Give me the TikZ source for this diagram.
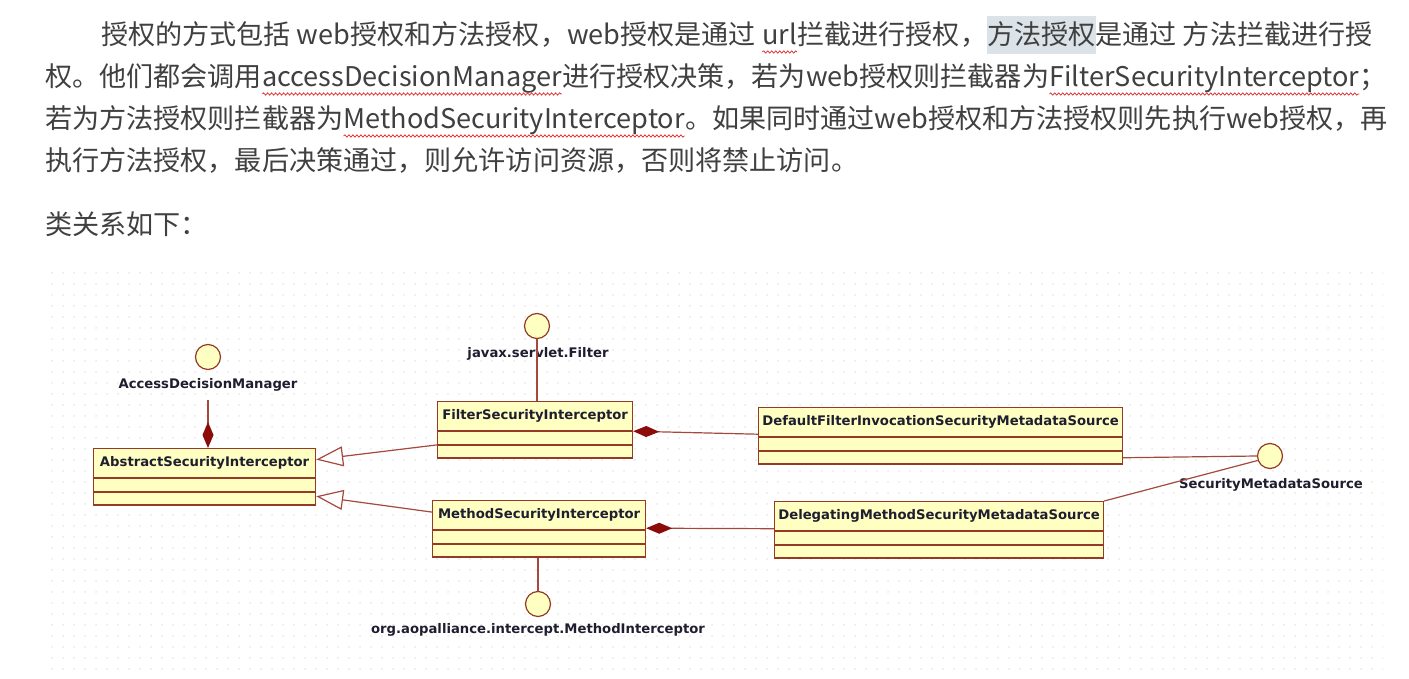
\documentclass[tikz,border=0pt]{standalone}
\usepackage{fontspec}
\setmainfont{Noto Sans CJK SC}
\newfontfamily\umlfont{DejaVu Sans}
\usetikzlibrary{arrows.meta,patterns.meta,decorations.pathmorphing}

\definecolor{bodytext}{RGB}{64,64,64}
\definecolor{hlgray}{RGB}{219,226,232}
\definecolor{wavered}{RGB}{225,40,40}
\definecolor{classfill}{RGB}{255,255,194}
\definecolor{classborder}{RGB}{150,58,40}
\definecolor{linkred}{RGB}{165,72,62}
\definecolor{diamondred}{RGB}{140,12,10}
\definecolor{umltext}{RGB}{30,30,48}
\definecolor{griddot}{RGB}{200,200,200}

% red spell-check squiggle under a word
\newcommand{\redwave}[1]{\tikz[baseline=(w.base)]{\node[inner sep=0pt, outer sep=0pt] (w) {#1};
    \draw[wavered, line width=0.7pt, decorate, decoration={snake, amplitude=1.2pt, segment length=4pt}] ([yshift=-7pt]w.base west) -- ([yshift=-7pt]w.base east);}}
\newcommand{\hlmark}[1]{{\setlength{\fboxsep}{0pt}\colorbox{hlgray}{\rule[-9pt]{0pt}{38pt}#1}}}

\begin{document}
\begin{tikzpicture}[x=1pt, y=-1pt,
    bodyline/.style={anchor=base west, inner sep=0pt, text=bodytext, font=\fontsize{27.1}{33}\selectfont},
    classname/.style={draw=classborder, fill=classfill, line width=1.2pt, anchor=north west, minimum height=29pt, inner sep=0pt, text=umltext, font=\umlfont\bfseries\fontsize{13.2}{14}\selectfont},
    classpart/.style={draw=classborder, fill=classfill, line width=1.2pt, anchor=north, minimum height=12.5pt, inner sep=0pt},
    iface/.style={circle, draw=classborder, fill=classfill, line width=1.2pt, minimum size=25pt, inner sep=0pt},
    ifacelabel/.style={inner sep=0pt, text=umltext, font=\umlfont\bfseries\fontsize{13.2}{14}\selectfont},
    link/.style={draw=linkred, line width=1.2pt},
    owns/.style={link, -{Diamond[length=26pt, width=11pt, color=diamondred, fill=diamondred]}},
    extends/.style={link, -{Triangle[length=27pt, width=20pt, fill=white]}}]
    \fill[white] (0,0) rectangle (1409,679);
    \useasboundingbox (0,0) rectangle (1409,679);

    % Text above the diagram
    \node[bodyline] (para1) at (101,45) {授权的方式包括 web授权和方法授权，web授权是通过 \redwave{url}拦截进行授权，\hlmark{方法授权}是通过 方法拦截进行授};
    \node[bodyline] (para2) at (45,87) {权。他们都会调用\redwave{accessDecisionManager}进行授权决策，若为web授权则拦截器为\redwave{FilterSecurityInterceptor}；};
    \node[bodyline] (para3) at (45,129) {若为方法授权则拦截器为\redwave{MethodSecurityInterceptor}。如果同时通过web授权和方法授权则先执行web授权，再};
    \node[bodyline] (para4) at (45,171) {执行方法授权，最后决策通过，则允许访问资源，否则将禁止访问。};
    \node[bodyline] (caption) at (45,235) {类关系如下：};

    % Dotted canvas
    \fill[pattern={Dots[distance=10.5pt, radius=0.75pt]}, pattern color=griddot] (51,271) rectangle (1383,677);

    % Classes
    \node[classname, minimum width=222pt] (abs) at (93,448) {AbstractSecurityInterceptor};
    \node[classpart, minimum width=222pt] (abs-attr) at (abs.south) {};
    \node[classpart, minimum width=222pt] (abs-ops) at (abs-attr.south) {};

    \node[classname, minimum width=195pt] (filt) at (437,401) {FilterSecurityInterceptor};
    \node[classpart, minimum width=195pt] (filt-attr) at (filt.south) {};
    \node[classpart, minimum width=195pt] (filt-ops) at (filt-attr.south) {};

    \node[classname, minimum width=213pt] (meth) at (432,500) {MethodSecurityInterceptor};
    \node[classpart, minimum width=213pt] (meth-attr) at (meth.south) {};
    \node[classpart, minimum width=213pt] (meth-ops) at (meth-attr.south) {};

    \node[classname, minimum width=364pt] (dflt) at (758,407) {DefaultFilterInvocationSecurityMetadataSource};
    \node[classpart, minimum width=364pt] (dflt-attr) at (dflt.south) {};
    \node[classpart, minimum width=364pt] (dflt-ops) at (dflt-attr.south) {};

    \node[classname, minimum width=329pt] (dlgt) at (774,501) {DelegatingMethodSecurityMetadataSource};
    \node[classpart, minimum width=329pt] (dlgt-attr) at (dlgt.south) {};
    \node[classpart, minimum width=329pt] (dlgt-ops) at (dlgt-attr.south) {};

    % Interfaces
    \node[iface] (adm) at (208,357) {};
    \node[ifacelabel] (adm-label) at (208,385) {AccessDecisionManager};
    \node[iface] (filterif) at (537,326) {};
    \node[ifacelabel] (filterif-label) at (538,354) {javax.servlet.Filter};
    \node[iface] (methif) at (538,604) {};
    \node[ifacelabel] (methif-label) at (538,630) {org.aopalliance.intercept.MethodInterceptor};
    \node[iface] (sms) at (1270,456) {};
    \node[ifacelabel] (sms-label) at (1271,485) {SecurityMetadataSource};

    % Connections
    \draw[owns] (adm-label.south) ++(0,8) -- (abs.north -| adm-label);
    \draw[link] (filterif.south) -- (filt.north -| filterif);
    \draw[link] (meth-ops.south -| methif) -- (methif.north);
    \draw[extends] (filt-attr.south west) -- ([yshift=3.5pt]abs.east);
    \draw[extends] ([yshift=3pt]meth.west) -- ([yshift=2.5pt]abs-ops.east);
    \draw[owns] ([yshift=3pt]dflt.south west) -- (filt.south east);
    \draw[owns] ([yshift=2.5pt]dlgt.south west) -- ([yshift=2pt]meth.south east);
    \draw[link] (dflt-ops.east) -- (sms.west);
    \draw[link] (dlgt.north east) -- (sms.200);
\end{tikzpicture}
\end{document}
